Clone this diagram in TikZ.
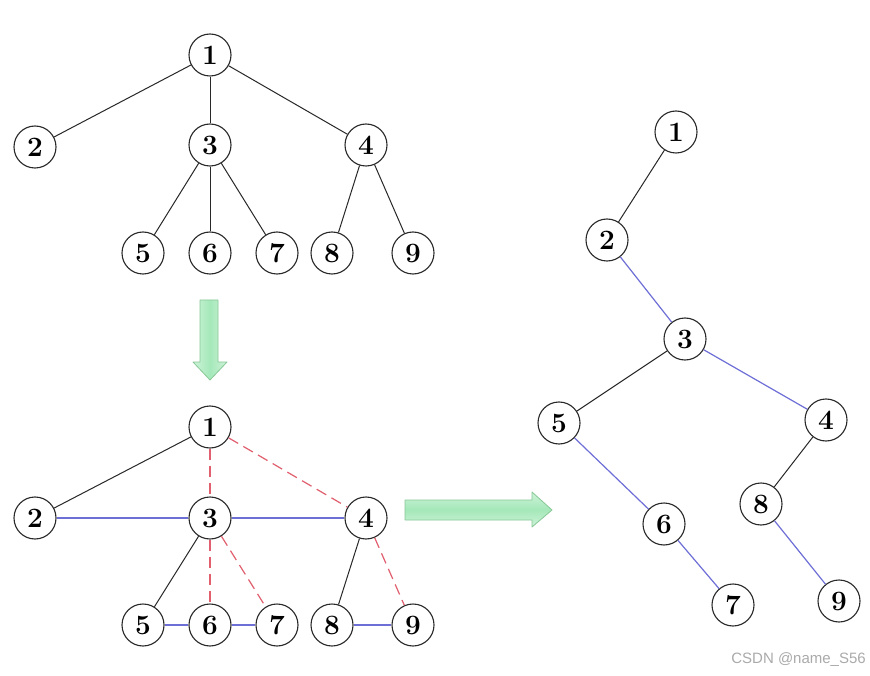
\documentclass[tikz,border=0pt]{standalone}
\usepackage{fontspec}
\setsansfont{Liberation Sans}
\definecolor{edgeblk}{RGB}{40,40,40}
\definecolor{edgeblue}{RGB}{110,110,215}
\definecolor{edgered}{RGB}{225,95,110}
\definecolor{arrowfill}{RGB}{165,232,185}
\definecolor{arrowline}{RGB}{135,200,150}
\definecolor{wmark}{RGB}{170,170,170}
\tikzset{
  vert/.style={circle, draw=edgeblk, line width=1.1pt, fill=white, minimum size=42pt, inner sep=0pt,
    font=\fontsize{28}{28}\selectfont\bfseries},
  blk/.style={draw=edgeblk, line width=1pt},
  blu/.style={draw=edgeblue, line width=1.2pt},
  reddash/.style={draw=edgered, line width=1.2pt, dash pattern=on 11pt off 6pt},
  arrowedge/.style={draw=arrowline, line width=0.8pt, line join=round}
}
\begin{document}
\begin{tikzpicture}[x=1pt,y=-1pt]
\useasboundingbox (0,0) rectangle (870,676);
\fill[white] (0,0) rectangle (870,676);

% top tree
\node[vert] (a1) at (210,55) {1};
\node[vert] (a2) at (35,147) {2};
\node[vert] (a3) at (210,145) {3};
\node[vert] (a4) at (366,145) {4};
\node[vert] (a5) at (143,253) {5};
\node[vert] (a6) at (210,253) {6};
\node[vert] (a7) at (277,253) {7};
\node[vert] (a8) at (332,253) {8};
\node[vert] (a9) at (413,253) {9};
\draw[blk] (a1) -- (a2);
\draw[blk] (a1) -- (a3);
\draw[blk] (a1) -- (a4);
\draw[blk] (a3) -- (a5);
\draw[blk] (a3) -- (a6);
\draw[blk] (a3) -- (a7);
\draw[blk] (a4) -- (a8);
\draw[blk] (a4) -- (a9);

% down arrow
\shade[left color=arrowfill!55!white, right color=arrowfill!55!white, middle color=arrowfill]
  (200,300) -- (218,300) -- (218,362) -- (227,362) -- (210,380) -- (193,362) -- (200,362) -- cycle;
\draw[arrowedge]
  (200,300) -- (218,300) -- (218,362) -- (227,362) -- (210,380) -- (193,362) -- (200,362) -- cycle;

% middle tree
\node[vert] (b1) at (210,427) {1};
\node[vert] (b2) at (35,518) {2};
\node[vert] (b3) at (210,518) {3};
\node[vert] (b4) at (366,518) {4};
\node[vert] (b5) at (143,625) {5};
\node[vert] (b6) at (210,625) {6};
\node[vert] (b7) at (277,625) {7};
\node[vert] (b8) at (332,625) {8};
\node[vert] (b9) at (413,625) {9};
\draw[blk] (b1) -- (b2);
\draw[blk] (b3) -- (b5);
\draw[blk] (b4) -- (b8);
\draw[blu] (b2) -- (b3);
\draw[blu] (b3) -- (b4);
\draw[blu] (b5) -- (b6);
\draw[blu] (b6) -- (b7);
\draw[blu] (b8) -- (b9);
\draw[reddash] (b1) -- (b3);
\draw[reddash] (b1) -- (b4);
\draw[reddash] (b3) -- (b6);
\draw[reddash] (b3) -- (b7);
\draw[reddash] (b4) -- (b9);

% right arrow
\shade[top color=arrowfill!55!white, bottom color=arrowfill!55!white, middle color=arrowfill]
  (405,500) -- (532,500) -- (532,492) -- (552,510) -- (532,527) -- (532,520) -- (405,520) -- cycle;
\draw[arrowedge]
  (405,500) -- (532,500) -- (532,492) -- (552,510) -- (532,527) -- (532,520) -- (405,520) -- cycle;

% right tree
\node[vert] (c1) at (676,132) {1};
\node[vert] (c2) at (607,240) {2};
\node[vert] (c3) at (685,339) {3};
\node[vert] (c5) at (559,423) {5};
\node[vert] (c4) at (826,420) {4};
\node[vert] (c8) at (761,504) {8};
\node[vert] (c6) at (664,524) {6};
\node[vert] (c7) at (733,605) {7};
\node[vert] (c9) at (839,601) {9};
\draw[blk] (c1) -- (c2);
\draw[blu] (c2) -- (c3);
\draw[blk] (c3) -- (c5);
\draw[blu] (c3) -- (c4);
\draw[blu] (c5) -- (c6);
\draw[blu] (c6) -- (c7);
\draw[blk] (c4) -- (c8);
\draw[blu] (c8) -- (c9);

% watermark
\node[anchor=east, text=wmark, font=\sffamily\fontsize{15}{15}\selectfont, inner sep=0pt] (wm) at (866,660) {CSDN @name\_S56};
\end{tikzpicture}
\end{document}
